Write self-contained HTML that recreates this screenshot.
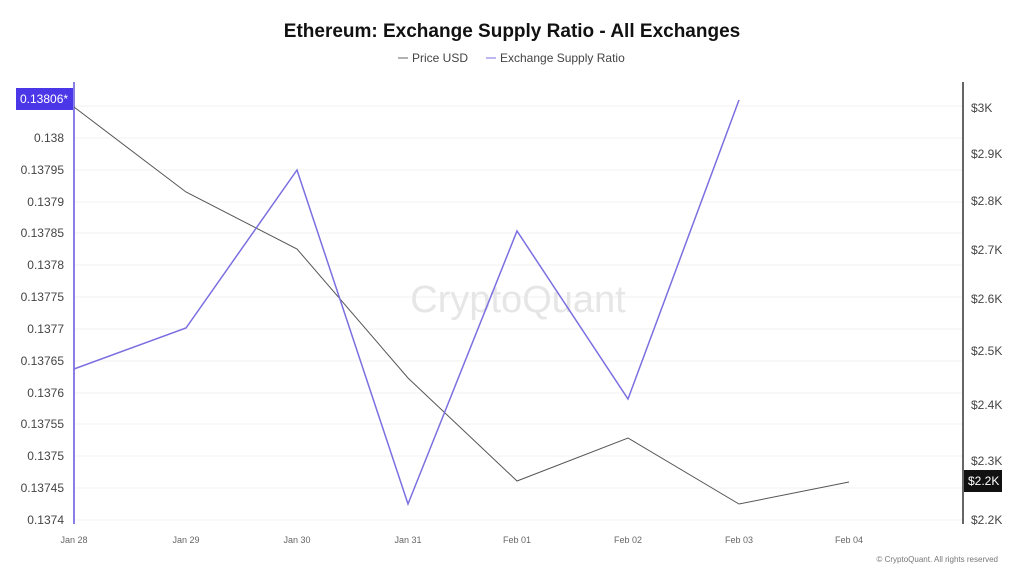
<!DOCTYPE html>
<html><head><meta charset="utf-8"><style>
body{margin:0;background:#fff;font-family:"Liberation Sans",sans-serif}
</style></head><body>
<svg width="1024" height="576" xmlns="http://www.w3.org/2000/svg" font-family="Liberation Sans, sans-serif">
<rect width="1024" height="576" fill="#fff"/>
<text x="512" y="37" text-anchor="middle" font-size="19" font-weight="bold" fill="#111">Ethereum: Exchange Supply Ratio - All Exchanges</text>
<line x1="398" y1="58" x2="408" y2="58" stroke="#666"/>
<text x="412" y="62" font-size="12" fill="#444">Price USD</text>
<line x1="486" y1="58" x2="496" y2="58" stroke="#7b6fe0"/>
<text x="500" y="62" font-size="12" fill="#444">Exchange Supply Ratio</text>
<g stroke="#f2f2f2">
<line x1="75" x2="962" y1="106" y2="106"/><line x1="75" x2="962" y1="138" y2="138"/><line x1="75" x2="962" y1="170" y2="170"/><line x1="75" x2="962" y1="202" y2="202"/><line x1="75" x2="962" y1="233" y2="233"/><line x1="75" x2="962" y1="265" y2="265"/><line x1="75" x2="962" y1="297" y2="297"/><line x1="75" x2="962" y1="329" y2="329"/><line x1="75" x2="962" y1="361" y2="361"/><line x1="75" x2="962" y1="393" y2="393"/><line x1="75" x2="962" y1="424" y2="424"/><line x1="75" x2="962" y1="456" y2="456"/><line x1="75" x2="962" y1="488" y2="488"/><line x1="75" x2="962" y1="520" y2="520"/>
</g>
<text x="518" y="312" text-anchor="middle" font-size="38" fill="#e6e6e6">CryptoQuant</text>
<line x1="74" y1="82" x2="74" y2="524" stroke="#8a7fe6" stroke-width="2"/>
<line x1="963" y1="82" x2="963" y2="524" stroke="#333" stroke-width="1.5"/>
<g font-size="12" fill="#444" text-anchor="end">
<text x="64" y="142">0.138</text><text x="64" y="174">0.13795</text><text x="64" y="206">0.1379</text><text x="64" y="237">0.13785</text><text x="64" y="269">0.1378</text><text x="64" y="301">0.13775</text><text x="64" y="333">0.1377</text><text x="64" y="365">0.13765</text><text x="64" y="397">0.1376</text><text x="64" y="428">0.13755</text><text x="64" y="460">0.1375</text><text x="64" y="492">0.13745</text><text x="64" y="524">0.1374</text>
</g>
<rect x="16" y="88" width="57" height="22" fill="#4b36e8"/>
<text x="20" y="103" font-size="12" fill="#fff">0.13806*</text>
<g font-size="12" fill="#444">
<text x="971" y="112">$3K</text><text x="971" y="158">$2.9K</text><text x="971" y="205">$2.8K</text><text x="971" y="254">$2.7K</text><text x="971" y="303">$2.6K</text><text x="971" y="355">$2.5K</text><text x="971" y="409">$2.4K</text><text x="971" y="465">$2.3K</text><text x="971" y="524">$2.2K</text>
</g>
<rect x="964" y="470" width="38" height="22" fill="#111"/>
<text x="968" y="485" font-size="12" fill="#fff">$2.2K</text>
<g font-size="9" fill="#666" text-anchor="middle">
<text x="74" y="543">Jan 28</text><text x="186" y="543">Jan 29</text><text x="297" y="543">Jan 30</text><text x="408" y="543">Jan 31</text><text x="517" y="543">Feb 01</text><text x="628" y="543">Feb 02</text><text x="739" y="543">Feb 03</text><text x="849" y="543">Feb 04</text>
</g>
<polyline fill="none" stroke="#555" stroke-width="1" points="74,107 186,192 297,249 408,378 517,481 628,438 739,504 849,482"/>
<polyline fill="none" stroke="#7b6fe0" stroke-width="1.5" points="74,369 186,328 297,170 408,504 517,231 628,399 739,100"/>
<text x="998" y="562" text-anchor="end" font-size="8" fill="#777">© CryptoQuant. All rights reserved</text>
</svg>
</body></html>
